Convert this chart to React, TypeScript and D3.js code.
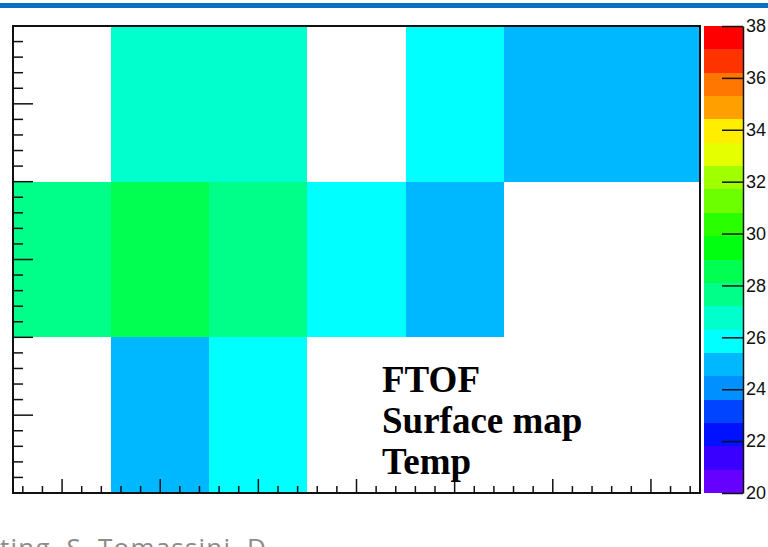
import React, { useEffect, useRef } from "react";
import * as d3 from "d3";

// bins of the 2D histogram
const xBins = [1, 2, 3, 4, 5, 6, 7];
const yBins = [1, 2, 3];
// temperature per row (y = 1 bottom ... y = 3 top), null = empty bin
const row1 = [null, 24.9, 25.9, null, null, null, null];
const row2 = [27.6, 28.6, 27.6, 25.8, 24.9, null, null];
const row3 = [null, 26.8, 26.8, null, 25.8, 25.0, 25.0];
const rows = [row1, row2, row3];

// palette, low -> high
const paletteColors = [
  "#6600ff", "#3a00ff", "#0011ff", "#0044ff", "#0090ff",
  "#00b8ff", "#00ffff", "#00ffcc", "#00ff88", "#00ff50",
  "#00ff10", "#2aff00", "#6cff00", "#a0ff00", "#e6ff00",
  "#ffee00", "#ffa000", "#ff7700", "#ff3300", "#ff0000",
];
const zDomain = [20, 38];
const zTicks = [20, 22, 24, 26, 28, 30, 32, 34, 36, 38];
const labelLines = ["FTOF", "Surface map", "Temp"];
const footerText = "ting, S. Tomassini, D";

const App = () => {
  const svgRef = useRef<SVGSVGElement>(null);

  useEffect(() => {
    const svg = d3.select(svgRef.current);
    svg.selectAll("*").remove();

    const left = 13, right = 700, top = 26, bottom = 493;

    const xScale = d3.scaleLinear().domain([0.5, 7.5]).range([left, right]);
    const yScale = d3.scaleLinear().domain([0.5, 3.5]).range([bottom, top]);
    const color = d3.scaleQuantize<string>().domain(zDomain).range(paletteColors);

    // blue strip on top
    svg.append("rect").attr("x", 0).attr("y", 3).attr("width", 768).attr("height", 5).attr("fill", "#0a6fc2");

    // cells
    const cells: { x: number; y: number; v: number }[] = [];
    rows.forEach((row, j) =>
      row.forEach((v, i) => {
        if (v != null) cells.push({ x: xBins[i], y: yBins[j], v });
      })
    );
    svg
      .append("g")
      .selectAll("rect")
      .data(cells)
      .join("rect")
      .attr("x", (d) => xScale(d.x - 0.5))
      .attr("y", (d) => yScale(d.y + 0.5))
      .attr("width", (d) => xScale(d.x + 0.5) - xScale(d.x - 0.5))
      .attr("height", (d) => yScale(d.y - 0.5) - yScale(d.y + 0.5))
      .attr("fill", (d) => color(d.v))
      .attr("shape-rendering", "crispEdges");

    // ticks
    const axis = svg.append("g").attr("stroke", "#111").attr("stroke-width", 1.5);
    const xTicks = d3.range(6, 75, 2).map((t) => t / 10);
    axis
      .selectAll(".xt")
      .data(xTicks)
      .join("line")
      .attr("x1", (d) => xScale(d))
      .attr("x2", (d) => xScale(d))
      .attr("y1", bottom)
      .attr("y2", (d) => bottom - (Math.abs(d - Math.round(d)) < 1e-6 ? 14 : 7));
    const yTicks = d3.range(6, 35, 1).map((t) => t / 10);
    axis
      .selectAll(".yt")
      .data(yTicks)
      .join("line")
      .attr("y1", (d) => yScale(d))
      .attr("y2", (d) => yScale(d))
      .attr("x1", left)
      .attr("x2", (d) => left + (Math.abs(d * 2 - Math.round(d * 2)) < 1e-6 ? 20 : 10));

    // frame
    svg
      .append("rect")
      .attr("x", left)
      .attr("y", top)
      .attr("width", right - left)
      .attr("height", bottom - top)
      .attr("fill", "none")
      .attr("stroke", "#111")
      .attr("stroke-width", 2);

    // palette bar
    const zScale = d3.scaleLinear().domain(zDomain).range([bottom, top]);
    const barX = 704, barW = 39;
    const step = (zDomain[1] - zDomain[0]) / paletteColors.length;
    svg
      .append("g")
      .selectAll("rect")
      .data(paletteColors)
      .join("rect")
      .attr("x", barX)
      .attr("y", (_, i) => zScale(zDomain[0] + (i + 1) * step))
      .attr("width", barW)
      .attr("height", (_, i) => zScale(zDomain[0] + i * step) - zScale(zDomain[0] + (i + 1) * step))
      .attr("fill", (d) => d)
      .attr("shape-rendering", "crispEdges");

    const zAxis = d3.axisRight(zScale).tickValues(zTicks).tickSize(0).tickPadding(3);
    const zg = svg.append("g").attr("transform", `translate(${barX + barW},0)`).call(zAxis);
    zg.select(".domain").attr("stroke", "#111").attr("stroke-width", 1.5);
    zg.selectAll("text")
      .attr("font-family", "Liberation Sans, Arial, sans-serif")
      .attr("font-size", 18)
      .attr("fill", "#111");
    zg.selectAll(".tick")
      .append("line")
      .attr("x1", 0)
      .attr("x2", -21)
      .attr("stroke", "#111")
      .attr("stroke-width", 1.5);

    // label
    svg
      .append("g")
      .selectAll("text")
      .data(labelLines)
      .join("text")
      .attr("x", 382)
      .attr("y", (_, i) => 392 + i * 41)
      .attr("font-family", "Liberation Serif, Times New Roman, serif")
      .attr("font-weight", "bold")
      .attr("font-size", 37)
      .attr("fill", "#000")
      .text((d) => d);

    // footer (cut by the page edge, as in the source slide)
    svg
      .append("text")
      .attr("x", 0)
      .attr("y", 557)
      .attr("font-family", "Open Sans, sans-serif")
      .attr("font-size", 26)
      .attr("letter-spacing", 1.2)
      .attr("fill", "#8c8c8c")
      .text(footerText);
  });

  return (
    <svg
      ref={svgRef}
      width={768}
      height={547}
      style={{ position: "absolute", left: 0, top: 0, background: "#fff" }}
    />
  );
};

export default App;
